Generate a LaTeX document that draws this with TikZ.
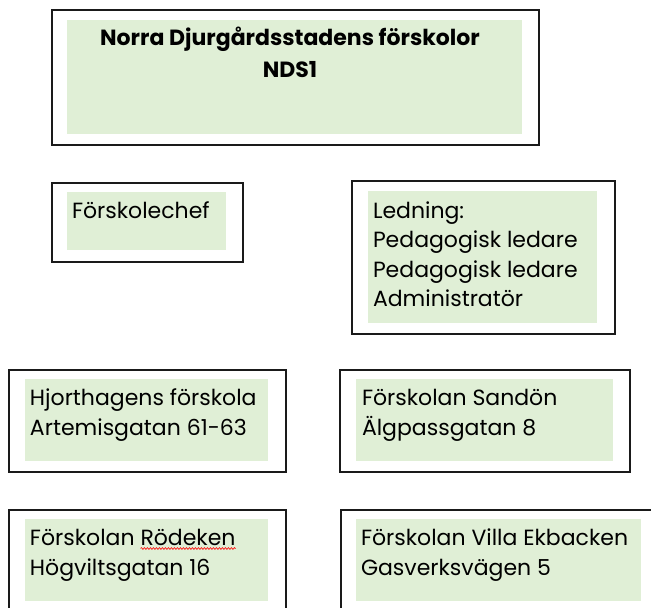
\documentclass[tikz,border=0pt]{standalone}
\usepackage{fontspec}
\setmainfont{Poppins}
\usetikzlibrary{decorations.pathmorphing}
\definecolor{nfgreen}{HTML}{E0EFD6}
\definecolor{boxline}{HTML}{1A1A1A}
\begin{document}
\begin{tikzpicture}[x=1pt,y=-1pt,
  outerbox/.style={draw=boxline, line width=1.4pt, fill=white, anchor=north west, inner sep=0, outer sep=0},
  innerbox/.style={fill=nfgreen, anchor=north west, inner sep=0, outer sep=0},
  txt/.style={anchor=base west, inner sep=0, outer sep=0, align=left, font=\fontsize{22}{29.5}\selectfont},
  ttl/.style={anchor=base, inner sep=0, outer sep=0, align=center, font=\fontsize{22}{32}\selectfont\bfseries},
  spell/.style={draw=red, line width=0.6pt, decorate, decoration={snake, amplitude=0.9pt, segment length=3pt}}]
\useasboundingbox (0,0) rectangle (651,608);
\clip (0,0) rectangle (651,608);
% title box
\node[outerbox, minimum width=487pt, minimum height=135pt] (o1) at (52,10) {};
\node[innerbox, minimum width=455pt, minimum height=114pt] (g1) at (67,20) {};
\node[ttl] (t1) at (290,77) {Norra Djurgårdsstadens förskolor\\NDS1};
% Förskolechef
\node[outerbox, minimum width=191pt, minimum height=79pt] (o2) at (52,183) {};
\node[innerbox, minimum width=159pt, minimum height=58pt] (g2) at (67,192) {};
\node[txt] (t2) at (72,218) {Förskolechef};
% Ledning
\node[outerbox, minimum width=263pt, minimum height=153pt] (o3) at (352,181) {};
\node[innerbox, minimum width=229pt, minimum height=132pt] (g3) at (368,191) {};
\node[txt] (t3) at (373,306.5) {Ledning:\\Pedagogisk ledare\\Pedagogisk ledare\\Administratör};
% Hjorthagens
\node[outerbox, minimum width=277pt, minimum height=102pt] (o4) at (9,370) {};
\node[innerbox, minimum width=243pt, minimum height=82pt] (g4) at (25,379) {};
\node[txt] (t4) at (30,435) {Hjorthagens förskola\\Artemisgatan 61-63};
% Sandön
\node[outerbox, minimum width=290pt, minimum height=102pt] (o5) at (340,370) {};
\node[innerbox, minimum width=257pt, minimum height=82pt] (g5) at (356,379) {};
\node[txt] (t5) at (362,435) {Förskolan Sandön\\Älgpassgatan 8};
% Rödeken
\node[outerbox, minimum width=277pt, minimum height=120pt] (o6) at (9,510) {};
\node[innerbox, minimum width=243pt, minimum height=82pt] (g6) at (25,519) {};
\node[txt] (t6a) at (30,545) {Förskolan\space};
\node[txt] (t6b) at (t6a.base east) {Rödeken};
\node[txt] (t6c) at (30,575) {Högviltsgatan 16};
\draw[spell] ([yshift=-3.5pt]t6b.base west) -- ([yshift=-3.5pt]t6b.base east);
% Villa Ekbacken
\node[outerbox, minimum width=330pt, minimum height=120pt] (o7) at (341,510) {};
\node[innerbox, minimum width=285pt, minimum height=82pt] (g7) at (356,519) {};
\node[txt] (t7) at (361,575) {Förskolan Villa Ekbacken\\Gasverksvägen 5};
\end{tikzpicture}
\end{document}
